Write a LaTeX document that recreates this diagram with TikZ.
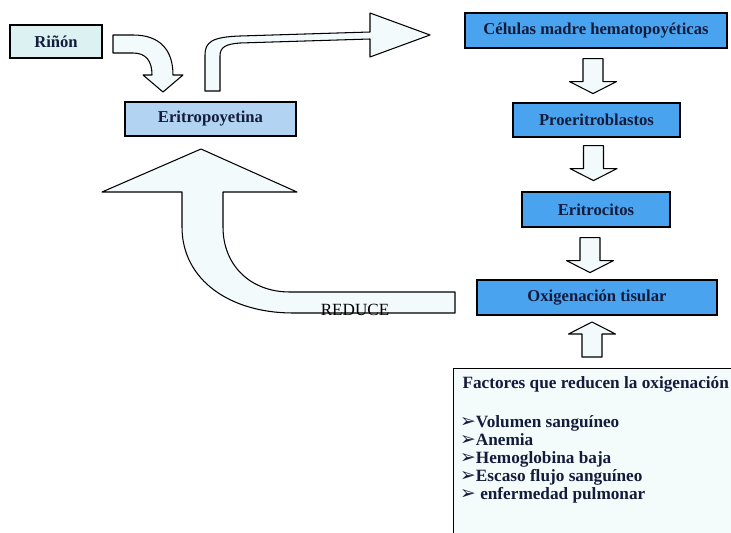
\documentclass[tikz,border=0pt]{standalone}
\usepackage{fontspec}
\setmainfont{Liberation Serif}
\newfontfamily\simbolos{DejaVu Sans}
\usetikzlibrary{calc}

\definecolor{cian}{HTML}{DCF2F2}
\definecolor{celeste}{HTML}{B3D3F3}
\definecolor{azul}{HTML}{4AA3EF}
\definecolor{relleno}{HTML}{F3FAFC}
\definecolor{tinta}{HTML}{141C3C}

\newcommand{\vin}{{\simbolos\fontsize{16}{16}\selectfont\char"27A2}}

\tikzset{
  caja/.style={draw=black, line width=1pt, inner sep=0pt,
    font=\bfseries\fontsize{14.2}{16}\selectfont, text=tinta},
  cajaazul/.style={caja, fill=azul},
  bloque/.style={draw=black, line width=0.9pt, fill=relleno, line join=round},
  bajada/.pic={
    \draw[bloque] (-10,0) -- (10,0) -- (10,23) -- (23.5,23) -- (0,35)
      -- (-23.5,23) -- (-10,23) -- cycle;
  }
}

\begin{document}
\begin{tikzpicture}[x=0.03cm, y=-0.03cm]
  \clip (0,0) rectangle (731,532);

  % cajas
  \node[caja, fill=cian, minimum width=92*0.03cm, minimum height=33*0.03cm] (rinon) at (56,41.5) {Riñón};
  \node[caja, fill=celeste, minimum width=171*0.03cm, minimum height=34*0.03cm] (epo) at (210.5,119) {Eritropoyetina};
  \node[cajaazul, minimum width=262*0.03cm, minimum height=35*0.03cm] (cel) at (596,30.5) {Células madre hematopoyéticas};
  \node[cajaazul, minimum width=167*0.03cm, minimum height=34*0.03cm] (pro) at (596.5,120) {Proeritroblastos};
  \node[cajaazul, minimum width=148*0.03cm, minimum height=35*0.03cm] (eri) at (596,209.5) {Eritrocitos};
  \node[cajaazul, minimum width=240*0.03cm, minimum height=35*0.03cm] (oxi) at (597,297.5) {Oxigenación tisular};
  \node[caja, fill=cian!30, anchor=north west, minimum width=320*0.03cm, minimum height=200*0.03cm] (factores) at (453,368) {};
  \node[anchor=north west, align=left, inner sep=0pt, text=tinta,
    font=\bfseries\fontsize{14.7}{15.4}\selectfont] (lista) at (460,376)
    {\hspace{2pt}Factores que reducen la oxigenación\\[17.9pt]
     \vin Volumen sanguíneo\\
     \vin Anemia\\
     \vin Hemoglobina baja\\
     \vin Escaso flujo sanguíneo\\
     \vin{} enfermedad pulmonar};

  % flechas rectas
  \pic at ($(cel.south)+(-3,10)$) {bajada};
  \pic at ($(pro.south)+(-3,8)$) {bajada};
  \pic at ($(eri.south)+(-6,10)$) {bajada};
  \pic[rotate=180] at ($(factores.north west)+(139,-11)$) {bajada};

  % flechas curvas
  \draw[bloque] (113,35) -- (133,35) .. controls (160,35) and (173,50) .. (173,75)
    -- (183,75) -- (163,92) -- (143,75) -- (152,75)
    .. controls (152,61) and (146,53) .. (133,53) -- (113,53) -- cycle;
  \draw[bloque] (205,91) -- (205,55) .. controls (205,42) and (212,37) .. (240,36)
    -- (370,32) -- (370,13) -- (430,35) -- (370,57) -- (370,39) -- (240,43)
    .. controls (226,44) and (220,47) .. (220,56) -- (220,91) -- cycle;
  \draw[bloque] (455,292) -- (290,292) .. controls (250,292) and (223,265) .. (223,227)
    -- (223,192) -- (297,192) -- (201,149) -- (102,192) -- (182,192) -- (182,227)
    .. controls (182,280) and (230,313) .. (293,313) -- (455,313) -- cycle;
  \node[anchor=base, font=\fontsize{14.6}{16}\selectfont, inner sep=0pt] (reduce) at (355,315) {REDUCE};
\end{tikzpicture}
\end{document}
